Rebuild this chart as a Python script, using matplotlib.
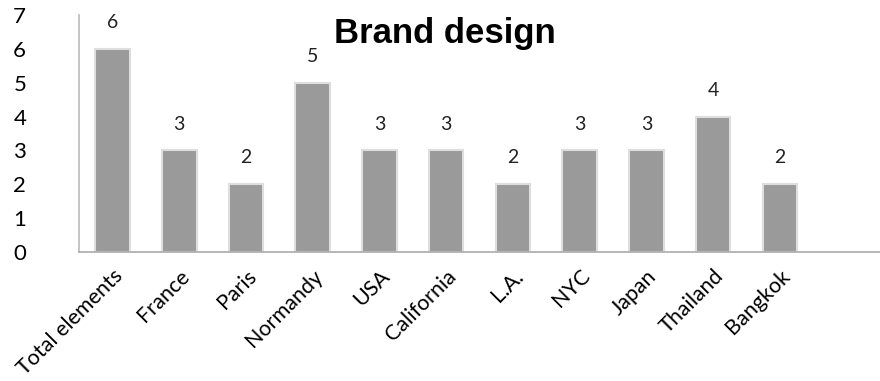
import matplotlib.pyplot as plt

categories = ["Total elements", "France", "Paris", "Normandy", "USA", "California",
              "L.A.", "NYC", "Japan", "Thailand", "Bangkok"]
counts = [6, 3, 2, 5, 3, 3, 2, 3, 3, 4, 2]

fig = plt.figure(figsize=(8.8, 3.81), dpi=100)
ax = fig.add_axes([0.0898, 0.3386, 0.9102, 0.622])

x = range(len(categories))
bars = ax.bar(x, counts, width=0.52, color="#9a9a9a", edgecolor="#dedede", linewidth=1.5)

# value labels above each bar
for xi, v in zip(x, counts):
    ax.text(xi, v + 0.78, str(v), ha="center", va="center", fontsize=14, family="Lato", color="#222222")

ax.set_xlim(-0.5, 11.5)
ax.set_ylim(0, 7)
ax.set_yticks(range(0, 8))
ax.set_yticklabels([str(i) for i in range(0, 8)], fontsize=16, family="Lato")
ax.set_xticks(list(x))
ax.set_xticklabels(categories, rotation=45, ha="right", rotation_mode="anchor",
                   fontsize=15.5, family="Lato")
ax.tick_params(length=0, pad=10)
ax.tick_params(axis="y", pad=38)

for side in ["top", "right"]:
    ax.spines[side].set_visible(False)
ax.spines["left"].set_color("#bbbbbb")
ax.spines["bottom"].set_color("#aaaaaa")
ax.spines["left"].set_linewidth(1.2)
ax.spines["bottom"].set_linewidth(1.2)

fig.text(0.505, 0.913, "Brand design", ha="center", va="center",
         fontsize=25, fontweight="bold", family="Liberation Sans")

fig.savefig("out.png", dpi=100)
